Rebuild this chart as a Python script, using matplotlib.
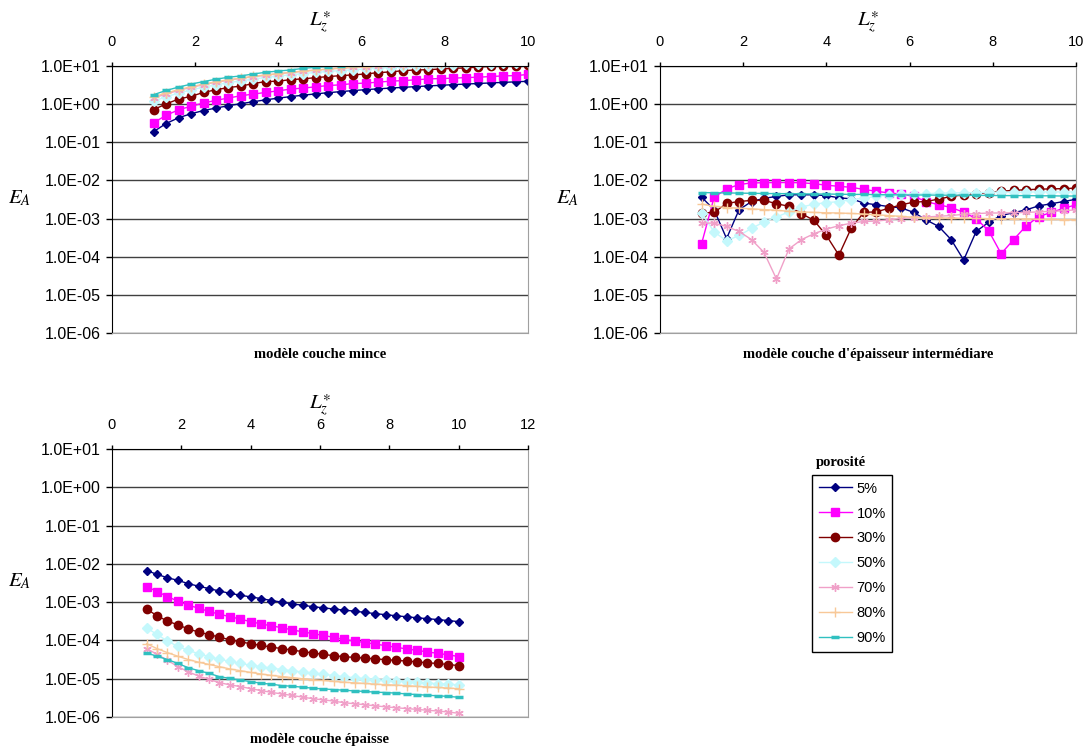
import matplotlib
matplotlib.use("Agg")
import matplotlib.pyplot as plt

plt.rcParams["font.family"] = ["Liberation Sans", "DejaVu Sans"]
plt.rcParams["mathtext.fontset"] = "stix"

# abscissa L_z* shared by all curves
lz = [1.0, 1.3, 1.6, 1.9, 2.2, 2.5, 2.8, 3.1, 3.4, 3.7, 4.0, 4.3, 4.6, 4.9, 5.2, 5.5,
      5.8, 6.1, 6.4, 6.7, 7.0, 7.3, 7.6, 7.9, 8.2, 8.5, 8.8, 9.1, 9.4, 9.7, 10.0]
porosity = ["5%", "10%", "30%", "50%", "70%", "80%", "90%"]
ytick_vals = [1e-6, 1e-5, 1e-4, 1e-3, 1e-2, 1e-1, 1e0, 1e1]
ytick_labels = ["1.0E-06", "1.0E-05", "1.0E-04", "1.0E-03", "1.0E-02", "1.0E-01", "1.0E+00", "1.0E+01"]

# modèle couche mince
mince_05 = [0.19, 0.31, 0.44, 0.56, 0.68, 0.79, 0.91, 1.03, 1.16, 1.30, 1.44, 1.58, 1.72, 1.86, 2.00, 2.13,
            2.27, 2.40, 2.52, 2.64, 2.76, 2.88, 3.00, 3.12, 3.24, 3.36, 3.48, 3.60, 3.72, 3.84, 3.98]
mince_10 = [0.325, 0.51, 0.71, 0.88, 1.07, 1.26, 1.45, 1.66, 1.84, 2.03, 2.24, 2.48, 2.64, 2.85, 3.08, 3.21,
            3.47, 3.56, 3.78, 4.0, 4.15, 4.33, 4.59, 4.68, 4.79, 4.97, 5.08, 5.30, 5.50, 5.6, 6.0]
mince_30 = [0.72, 1.01, 1.36, 1.60, 2.03, 2.38, 2.73, 2.97, 3.47, 3.91, 4.0, 4.4, 4.6, 4.97, 5.27, 5.60,
            5.84, 6.2, 6.7, 7.0, 7.55, 7.87, 8.0, 8.36, 8.7, 8.87, 9.4, 9.8, 10.0, 10.3, 10.6]
mince_50 = [1.20, 1.55, 1.95, 2.35, 2.8, 3.2, 3.65, 4.1, 4.55, 5.0, 5.45, 5.9, 6.35, 6.8, 7.2, 7.6,
            8.0, 8.4, 8.75, 9.1, 9.45, 9.8, 10.1, 10.4, 10.7, 11.0, 11.3, 11.6, 11.9, 12.2, 12.5]
mince_70 = [1.45, 1.85, 2.3, 2.75, 3.25, 3.75, 4.25, 4.75, 5.25, 5.75, 6.25, 6.75, 7.3, 7.8, 8.3, 8.8,
            9.2, 9.6, 10.0, 10.4, 10.8, 11.2, 11.6, 12.0, 12.4, 12.8, 13.2, 13.6, 14.0, 14.4, 14.8]
mince_80 = [1.55, 1.95, 2.4, 2.85, 3.35, 3.85, 4.35, 4.85, 5.35, 5.85, 6.35, 6.85, 7.35, 7.85, 8.35, 8.8,
            9.25, 9.7, 10.1, 10.5, 10.9, 11.3, 11.7, 12.1, 12.5, 12.9, 13.3, 13.7, 14.1, 14.5, 14.9]
mince_90 = [1.77, 2.28, 2.80, 3.35, 3.91, 4.5, 5.08, 5.5, 6.2, 6.85, 7.4, 7.87, 8.7, 9.25, 9.7, 10.2,
            10.7, 11.2, 11.7, 12.2, 12.7, 13.2, 13.7, 14.2, 14.7, 15.2, 15.7, 16.2, 16.7, 17.2, 17.7]

# modèle couche d'épaisseur intermédiaire
inter_05 = [3.65e-3, 1.7e-3, 3.0e-4, 1.7e-3, 2.8e-3, 3.4e-3, 3.8e-3, 4.2e-3, 4.2e-3, 4.2e-3, 4.0e-3,
            3.5e-3, 3.3e-3, 2.55e-3, 2.3e-3, 2.06e-3, 1.9e-3, 1.45e-3, 9.2e-4, 6.2e-4, 2.8e-4, 8.2e-5,
            4.6e-4, 8.0e-4, 1.2e-3, 1.43e-3, 1.69e-3, 2.15e-3, 2.44e-3, 2.8e-3, 3.2e-3]
inter_10 = [2.2e-4, 3.6e-3, 6.0e-3, 7.8e-3, 8.6e-3, 8.7e-3, 8.8e-3, 8.8e-3, 8.7e-3, 8.2e-3, 7.5e-3,
            7.0e-3, 6.6e-3, 5.8e-3, 5.2e-3, 4.7e-3, 4.4e-3, 3.8e-3, 2.8e-3, 2.3e-3, 1.95e-3, 1.46e-3,
            1.0e-3, 4.8e-4, 1.2e-4, 2.8e-4, 6.4e-4, 1.12e-3, 1.45e-3, 1.85e-3, 2.3e-3]
inter_30 = [1.4e-3, 1.45e-3, 2.5e-3, 2.8e-3, 3.0e-3, 3.0e-3, 2.45e-3, 2.1e-3, 1.35e-3, 9.0e-4, 3.6e-4,
            1.1e-4, 5.7e-4, 1.45e-3, 1.5e-3, 1.86e-3, 2.3e-3, 2.7e-3, 2.8e-3, 3.25e-3, 3.8e-3, 4.2e-3,
            4.5e-3, 4.8e-3, 5.2e-3, 5.5e-3, 5.7e-3, 5.9e-3, 6.0e-3, 6.1e-3, 6.3e-3]
inter_50 = [1.4e-3, 4.5e-4, 2.6e-4, 3.6e-4, 5.5e-4, 8.2e-4, 1.1e-3, 1.5e-3, 2.0e-3, 2.4e-3, 2.6e-3,
            2.8e-3, 3.1e-3, 3.45e-3, 3.8e-3, 4.1e-3, 4.3e-3, 4.4e-3, 4.5e-3, 4.6e-3, 4.7e-3, 4.75e-3,
            4.8e-3, 4.85e-3, 4.9e-3, 4.9e-3, 4.95e-3, 5.0e-3, 5.0e-3, 5.0e-3, 5.0e-3]
inter_70 = [7.6e-4, 7.6e-4, 6.2e-4, 4.6e-4, 2.8e-4, 1.3e-4, 2.6e-5, 1.6e-4, 2.8e-4, 4.0e-4, 5.3e-4,
            6.5e-4, 7.6e-4, 8.4e-4, 8.6e-4, 9.3e-4, 1.0e-3, 1.06e-3, 1.1e-3, 1.15e-3, 1.2e-3, 1.3e-3,
            1.35e-3, 1.4e-3, 1.4e-3, 1.42e-3, 1.45e-3, 1.5e-3, 1.55e-3, 1.6e-3, 1.7e-3]
inter_80 = [2.4e-3, 2.1e-3, 1.95e-3, 1.87e-3, 1.8e-3, 1.72e-3, 1.65e-3, 1.55e-3, 1.5e-3, 1.45e-3, 1.42e-3,
            1.4e-3, 1.36e-3, 1.32e-3, 1.26e-3, 1.2e-3, 1.14e-3, 1.08e-3, 1.05e-3, 1.04e-3, 1.03e-3, 1.02e-3,
            1.01e-3, 1.0e-3, 9.9e-4, 9.8e-4, 9.7e-4, 9.6e-4, 9.5e-4, 9.4e-4, 9.3e-4]
inter_90 = [4.8e-3, 4.75e-3, 4.7e-3, 4.65e-3, 4.6e-3, 4.55e-3, 4.5e-3, 4.5e-3, 4.45e-3, 4.4e-3, 4.4e-3,
            4.35e-3, 4.3e-3, 4.3e-3, 4.25e-3, 4.2e-3, 4.2e-3, 4.15e-3, 4.15e-3, 4.1e-3, 4.1e-3, 4.1e-3,
            4.05e-3, 4.05e-3, 4.0e-3, 4.0e-3, 4.0e-3, 3.95e-3, 3.95e-3, 3.9e-3, 3.9e-3]

# modèle couche épaisse
epais_05 = [6.7e-3, 5.3e-3, 4.35e-3, 3.7e-3, 3.05e-3, 2.6e-3, 2.26e-3, 1.95e-3, 1.7e-3, 1.52e-3, 1.37e-3,
            1.24e-3, 1.1e-3, 1.0e-3, 9.0e-4, 8.3e-4, 7.6e-4, 7.1e-4, 6.6e-4, 6.2e-4, 5.8e-4, 5.4e-4,
            5.0e-4, 4.7e-4, 4.4e-4, 4.15e-4, 3.9e-4, 3.7e-4, 3.5e-4, 3.3e-4, 3.1e-4]
epais_10 = [2.55e-3, 1.89e-3, 1.40e-3, 1.06e-3, 8.4e-4, 6.9e-4, 5.75e-4, 4.8e-4, 4.2e-4, 3.6e-4, 3.1e-4,
            2.7e-4, 2.4e-4, 2.15e-4, 1.88e-4, 1.68e-4, 1.5e-4, 1.35e-4, 1.2e-4, 1.06e-4, 9.6e-5, 8.8e-5,
            8.0e-5, 7.3e-5, 6.6e-5, 6.0e-5, 5.5e-5, 5.0e-5, 4.6e-5, 4.2e-5, 3.8e-5]
epais_30 = [6.6e-4, 4.4e-4, 3.2e-4, 2.55e-4, 2.0e-4, 1.65e-4, 1.42e-4, 1.22e-4, 1.04e-4, 9.2e-5, 8.2e-5,
            7.4e-5, 6.7e-5, 6.1e-5, 5.6e-5, 5.1e-5, 4.7e-5, 4.3e-5, 4.0e-5, 3.75e-5, 3.6e-5, 3.45e-5,
            3.3e-5, 3.15e-5, 3.0e-5, 2.9e-5, 2.75e-5, 2.6e-5, 2.5e-5, 2.35e-5, 2.2e-5]
epais_50 = [2.13e-4, 1.43e-4, 9.6e-5, 7.0e-5, 5.5e-5, 4.5e-5, 3.75e-5, 3.2e-5, 2.85e-5, 2.5e-5, 2.26e-5,
            2.06e-5, 1.88e-5, 1.74e-5, 1.6e-5, 1.5e-5, 1.4e-5, 1.32e-5, 1.2e-5, 1.12e-5, 1.06e-5, 1.0e-5,
            9.5e-6, 9.1e-6, 8.7e-6, 8.3e-6, 8.0e-6, 7.7e-6, 7.4e-6, 7.2e-6, 6.9e-6]
epais_70 = [6.1e-5, 4.35e-5, 3.04e-5, 2.06e-5, 1.52e-5, 1.17e-5, 9.6e-6, 7.9e-6, 6.9e-6, 6.25e-6, 5.5e-6,
            4.9e-6, 4.4e-6, 4.0e-6, 3.65e-6, 3.3e-6, 3.0e-6, 2.8e-6, 2.6e-6, 2.35e-6, 2.22e-6, 2.09e-6,
            1.95e-6, 1.84e-6, 1.74e-6, 1.66e-6, 1.58e-6, 1.5e-6, 1.43e-6, 1.35e-6, 1.25e-6]
epais_80 = [8.2e-5, 6.1e-5, 4.8e-5, 3.86e-5, 3.17e-5, 2.7e-5, 2.36e-5, 2.06e-5, 1.8e-5, 1.62e-5, 1.46e-5,
            1.33e-5, 1.22e-5, 1.14e-5, 1.07e-5, 1.0e-5, 9.4e-6, 9.0e-6, 8.5e-6, 8.1e-6, 7.8e-6, 7.5e-6,
            7.2e-6, 7.0e-6, 6.8e-6, 6.6e-6, 6.3e-6, 6.1e-6, 5.9e-6, 5.7e-6, 5.5e-6]
epais_90 = [4.7e-5, 3.86e-5, 3.17e-5, 2.5e-5, 1.94e-5, 1.62e-5, 1.38e-5, 1.13e-5, 1.02e-5, 9.2e-6, 8.4e-6,
            7.6e-6, 7.2e-6, 6.6e-6, 6.35e-6, 6.0e-6, 5.65e-6, 5.4e-6, 5.2e-6, 5.0e-6, 4.8e-6, 4.65e-6,
            4.45e-6, 4.35e-6, 4.2e-6, 4.0e-6, 3.85e-6, 3.7e-6, 3.58e-6, 3.45e-6, 3.28e-6]

mince = [mince_05, mince_10, mince_30, mince_50, mince_70, mince_80, mince_90]
inter = [inter_05, inter_10, inter_30, inter_50, inter_70, inter_80, inter_90]
epais = [epais_05, epais_10, epais_30, epais_50, epais_70, epais_80, epais_90]

styles = [
    dict(color="#000080", marker="D", ms=4.5),
    dict(color="#FF00FF", marker="s", ms=5.5),
    dict(color="#800000", marker="o", ms=6),
    dict(color="#C4F8FC", marker="D", ms=5),
    dict(color="#F0A0C8", marker=(6, 2, 0), ms=6, mew=1),
    dict(color="#F8C898", marker="+", ms=7, mew=1),
    dict(color="#30C0C0", marker="_", ms=6, mew=2.5),
]

W, H = 1090, 752
fig = plt.figure(figsize=(W / 100, H / 100), dpi=100)


def panel(x0, y_top, y_bot, series, xmax, xticks, caption):
    ax = fig.add_axes([x0 / W, 1 - y_bot / H, 416 / W, (y_bot - y_top) / H])
    for vals, st in zip(series, styles):
        ax.plot(lz, vals, lw=1, **st)
    ax.set_yscale("log")
    ax.set_ylim(1e-6, 1e1)
    ax.set_xlim(0, xmax)
    ax.yaxis.set_major_locator(plt.FixedLocator(ytick_vals))
    ax.yaxis.set_minor_locator(plt.NullLocator())
    ax.set_yticklabels(ytick_labels)
    ax.set_xticks(xticks)
    ax.xaxis.tick_top()
    ax.tick_params(axis="x", direction="out", length=3, width=1, pad=9, labelsize=10.5)
    ax.tick_params(axis="y", direction="out", length=4, width=1, pad=4, labelsize=11.5)
    ax.yaxis.grid(True, color="#404040", lw=1)
    ax.spines["left"].set_color("black")
    ax.spines["top"].set_color("black")
    ax.spines["right"].set_color("#a0a0a0")
    ax.spines["bottom"].set_color("#a0a0a0")
    ax.xaxis.set_label_position("top")
    ax.set_xlabel(r"$L_z^{\ast}$", fontsize=15, labelpad=7)
    fig.text((x0 - 92) / W, 1 - (y_top + 132) / H, r"$E_A$", fontsize=15, ha="center", va="center")
    fig.text((x0 + 208) / W, 1 - (y_bot + 22) / H, caption, fontsize=10.5, fontweight="bold",
             family="Liberation Serif", ha="center", va="center")
    return ax


panel(112, 66, 333, mince, 10, range(0, 11, 2), "modèle couche mince")
panel(660, 66, 333, inter, 10, range(0, 11, 2), "modèle couche d'épaisseur intermédiare")
ax3 = panel(112, 449, 717, epais, 12, range(0, 13, 2), "modèle couche épaisse")

fig.text(841 / W, 1 - 462 / H, "porosité", fontsize=10.5, fontweight="bold",
         family="Liberation Serif", ha="center", va="center")
fig.legend(ax3.get_lines(), porosity, loc="upper left", bbox_to_anchor=(812 / W, 1 - 475 / H),
           frameon=True, fancybox=False, edgecolor="black", framealpha=1, fontsize=10.5,
           handlelength=2.3, labelspacing=0.75, borderaxespad=0, borderpad=0.45,
           handletextpad=0.3)

fig.savefig("out.png", dpi=100)
